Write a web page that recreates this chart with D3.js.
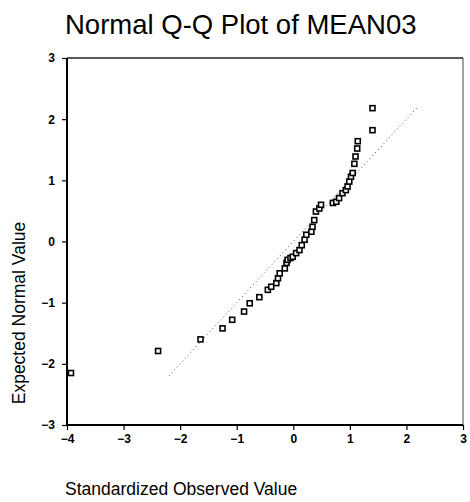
<!DOCTYPE html>
<html>
<head>
<meta charset="utf-8">
<script src="https://cdn.jsdelivr.net/npm/d3@7"></script>
<style>
  html, body { margin: 0; padding: 0; background: #fff; }
  svg { display: block; }
  text { font-family: "Liberation Sans", Arial, Helvetica, sans-serif; fill: #000; }
</style>
</head>
<body>
<svg id="chart" width="470" height="502"></svg>
<script>
// ---- Data ----
const chartTitle = "Normal Q-Q Plot of MEAN03";
const xAxisTitle = "Standardized Observed Value";
const yAxisTitle = "Expected Normal Value";

// standardized observed value (x) for each case
const observed = [
  -3.93, -2.39, -1.64, -1.25, -1.08, -0.87, -0.77, -0.60, -0.45, -0.39,
  -0.30, -0.27, -0.24, -0.15, -0.12, -0.10, -0.05, -0.01, 0.05, 0.11,
   0.15,  0.20,  0.23,  0.32,  0.34,  0.37,  0.40,  0.46, 0.49, 0.70,
   0.76,  0.81,  0.87,  0.93,  0.96,  0.99,  1.02,  1.05, 1.08, 1.10,
   1.13,  1.14,  1.40,  1.40
];
// expected normal value (y) for each case
const expected = [
  -2.15, -1.79, -1.60, -1.42, -1.28, -1.145, -1.01, -0.91, -0.79, -0.74,
  -0.68, -0.60, -0.52, -0.44, -0.35, -0.30, -0.27, -0.25, -0.19, -0.14,
  -0.06,  0.03,  0.11,  0.16,  0.24,  0.35,  0.49,  0.54,  0.60,  0.63,
   0.65,  0.71,  0.79,  0.84,  0.90,  0.98,  1.06,  1.12,  1.27,  1.39,
   1.52,  1.64,  1.82,  2.18
];
// reference (y = x) line end points
const refLine = [-2.2, 2.2];

const xDomain = [-4, 3];
const yDomain = [-3, 3];
const xTicks = [-4, -3, -2, -1, 0, 1, 2, 3];
const yTicks = [-3, -2, -1, 0, 1, 2, 3];

// ---- Layout ----
const svg = d3.select("#chart");
const plot = { left: 67, right: 463, top: 58, bottom: 425 };

const x = d3.scaleLinear().domain(xDomain).range([plot.left, plot.right]);
const y = d3.scaleLinear().domain(yDomain).range([plot.bottom, plot.top]);

// Title
svg.append("text")
  .attr("x", 65).attr("y", 34)
  .attr("text-anchor", "start")
  .style("font-size", "27.5px")
  .text(chartTitle);

// Frame (top & right)
svg.append("line")
  .attr("x1", plot.left).attr("x2", plot.right)
  .attr("y1", plot.top).attr("y2", plot.top)
  .attr("stroke", "#222").attr("stroke-width", 1.3);
svg.append("line")
  .attr("x1", plot.right).attr("x2", plot.right)
  .attr("y1", plot.top).attr("y2", plot.bottom)
  .attr("stroke", "#444").attr("stroke-width", 1);

// Axes
const xAxis = d3.axisBottom(x).tickValues(xTicks).tickSize(5).tickFormat(d3.format("d"));
const yAxis = d3.axisLeft(y).tickValues(yTicks).tickSize(5).tickFormat(d3.format("d"));

const gx = svg.append("g")
  .attr("transform", `translate(0,${plot.bottom})`)
  .call(xAxis);
const gy = svg.append("g")
  .attr("transform", `translate(${plot.left},0)`)
  .call(yAxis);

[gx, gy].forEach(g => {
  g.select(".domain").attr("stroke", "#000").attr("stroke-width", 2);
  g.selectAll(".tick line").attr("stroke", "#000").attr("stroke-width", 1.2);
  g.selectAll(".tick text")
    .style("font-size", "12px")
    .style("font-weight", "bold")
    .attr("fill", "#000");
});
gx.select(".domain").attr("d", `M${plot.left},0H${plot.right}`);
gy.select(".domain").attr("d", `M0,${plot.bottom}V${plot.top}`);
gx.selectAll(".tick text").attr("y", 9).attr("dy", "0.71em");
gy.selectAll(".tick text").attr("x", -12);

// Axis titles
svg.append("text")
  .attr("x", 65).attr("y", 495)
  .attr("text-anchor", "start")
  .style("font-size", "17.5px")
  .text(xAxisTitle);

svg.append("text")
  .attr("transform", "translate(25,313) rotate(-90)")
  .attr("text-anchor", "middle")
  .style("font-size", "17.5px")
  .text(yAxisTitle);

// Reference line (dotted)
svg.append("line")
  .attr("x1", x(refLine[0])).attr("y1", y(refLine[0]))
  .attr("x2", x(refLine[1])).attr("y2", y(refLine[1]))
  .attr("stroke", "#444")
  .attr("stroke-width", 1)
  .attr("stroke-dasharray", "1,3");

// Points (open squares)
const pts = observed.map((v, i) => ({ ox: v, ey: expected[i] }));
const s = 5;
svg.append("g").selectAll("rect")
  .data(pts)
  .join("rect")
  .attr("x", d => x(d.ox) - s / 2)
  .attr("y", d => y(d.ey) - s / 2)
  .attr("width", s).attr("height", s)
  .attr("fill", "#fff")
  .attr("stroke", "#000")
  .attr("stroke-width", 1.6);
</script>
</body>
</html>
